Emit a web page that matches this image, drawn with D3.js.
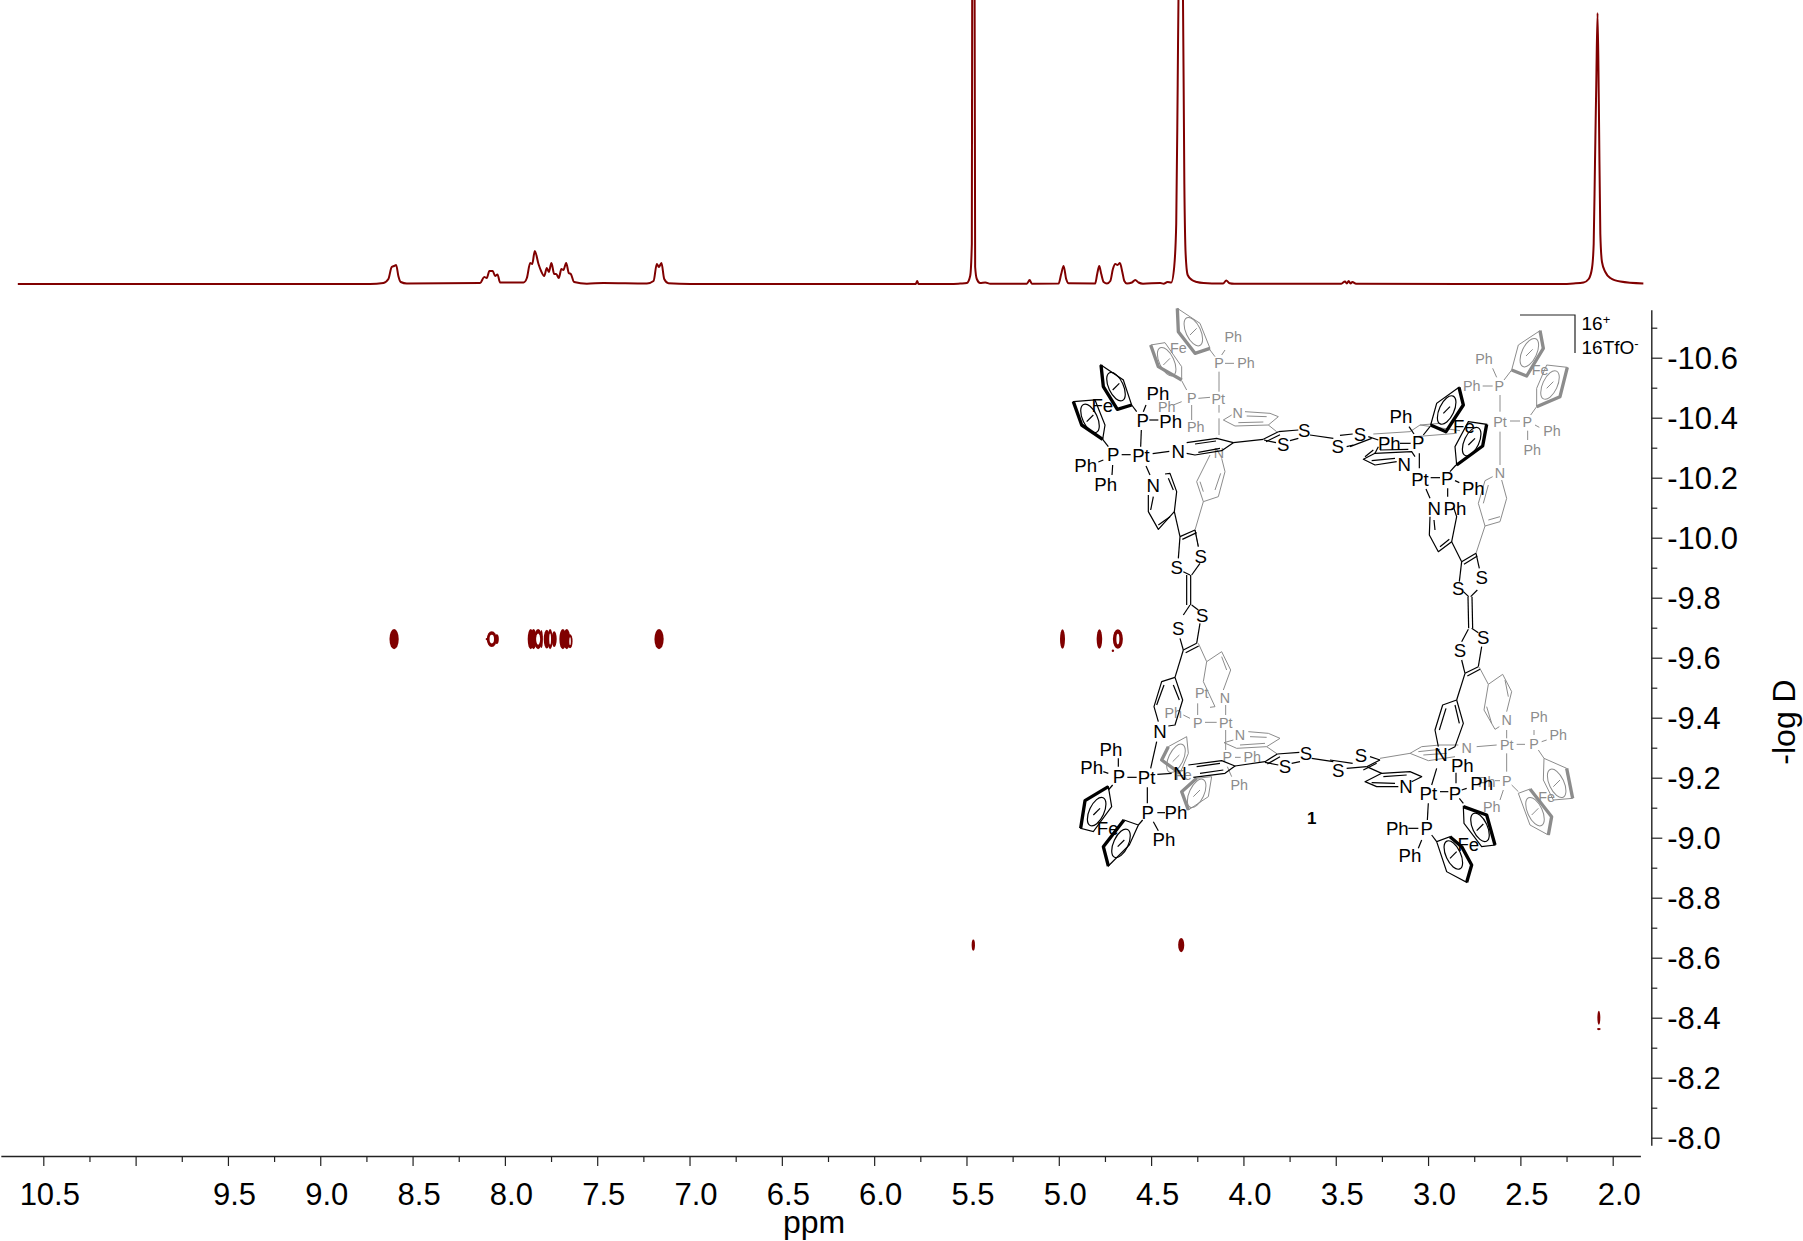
<!DOCTYPE html>
<html><head><meta charset="utf-8">
<script src="https://cdn.jsdelivr.net/npm/d3@7"></script>
<style>html,body{margin:0;padding:0;background:#fff}svg{display:block}text{font-family:"Liberation Sans",Arial,sans-serif}</style>
</head><body><svg id="c" width="1803" height="1241"></svg>
<script>
// 1H projection: chemical shift (ppm) and intensity (arbitrary units)
const specPpm = [10.638,8.73,8.658,8.631,8.613,8.6,8.589,8.577,8.564,8.531,8.134,8.112,8.098,8.084,8.066,8.053,8.04,8.026,7.899,7.881,7.863,7.852,7.838,7.818,7.804,7.787,7.773,7.762,7.748,7.733,7.722,7.708,7.694,7.683,7.668,7.654,7.643,7.625,7.556,7.466,7.231,7.195,7.177,7.166,7.152,7.137,7.114,6.997,5.8,5.775,5.767,5.76,5.588,5.534,5.498,5.48,5.471,5.469,5.463,5.456,5.453,5.444,5.426,5.398,5.371,5.173,5.158,5.146,5.001,4.987,4.974,4.96,4.947,4.803,4.792,4.781,4.77,4.757,4.739,4.721,4.707,4.694,4.682,4.669,4.656,4.645,4.631,4.604,4.586,4.568,4.544,4.45,4.432,4.411,4.391,4.375,4.364,4.356,4.351,4.338,4.328,4.32,4.313,4.302,4.279,4.252,4.216,4.125,4.11,4.093,4.075,4.05,3.47,3.45,3.44,3.43,3.42,3.41,3.39,2.284,2.212,2.158,2.13,2.112,2.103,2.096,2.089,2.082,2.075,2.067,2.058,2.04,2.013,1.959,1.834];
const specInt = [0,0,1,5,17,18,19,8,2,0.5,1,7,6,13,13,8,9.5,1.5,1.5,6,21,20,33,20,13,8,16,12,21,10,10,6,15,14,21,11,10,2,0.3,1,0.5,3,20,17,21,5,0.8,0,0,0,3,0,0,0.5,1,8,40,300,330,300,17,5,1,1.5,0.3,0.3,4,0.3,0.5,10,18,5,0.7,0.5,10,18,10,2,0.5,3,15,20,19,21,12,3,0.5,1.5,4,1.5,0.3,1,0.3,2,1.5,17,60,200,300,350,300,100,30,9,4,2,1,0.5,0.5,3.5,0.8,0.3,0.3,2.5,0.5,3,0.5,2,0.2,0,0.5,1.5,5,16,40,120,200,271,180,50,22,12,6,2.5,0.5];

// DOSY contours: shift, -log D, extent in ppm, extent in log D, hollow fraction
const blobPpm  = [8.60,8.098,8.071,8.044,7.860,7.845,7.820,7.802,7.773,7.755,7.733,7.686,7.665,7.647,7.165,4.98,4.78,4.68,4.707,5.463,4.337,2.075,2.075];
const blobLogD = [-9.662,-9.662,-9.662,-9.662,-9.662,-9.662,-9.662,-9.662,-9.662,-9.662,-9.662,-9.662,-9.662,-9.655,-9.662,-9.662,-9.662,-9.662,-9.623,-8.642,-8.642,-8.40,-8.362];
const blobDx   = [0.05,0.012,0.054,0.022,0.033,0.033,0.043,0.016,0.033,0.027,0.027,0.038,0.038,0.027,0.05,0.027,0.03,0.054,0.013,0.018,0.033,0.016,0.02];
const blobDy   = [0.067,0.008,0.053,0.033,0.067,0.067,0.067,0.06,0.063,0.067,0.053,0.067,0.067,0.047,0.067,0.065,0.065,0.065,0.008,0.037,0.047,0.047,0.007];
const blobHole = [0,0,0.45,0,0,0,0.5,0,0,0.35,0,0,0,0.3,0,0,0,0.3,0,0,0,0,0];

const xMajor = [10.5,10,9.5,9,8.5,8,7.5,7,6.5,6,5.5,5,4.5,4,3.5,3,2.5,2];
const xMinor = [10.25,9.75,9.25,8.75,8.25,7.75,7.25,6.75,6.25,5.75,5.25,4.75,4.25,3.75,3.25,2.75,2.25];
const xLabelSkip = [10];
const yMajor = [-8,-8.2,-8.4,-8.6,-8.8,-9,-9.2,-9.4,-9.6,-9.8,-10,-10.2,-10.4,-10.6];
const yMinor = [-8.1,-8.3,-8.5,-8.7,-8.9,-9.1,-9.3,-9.5,-9.7,-9.9,-10.1,-10.3,-10.5,-10.7];

const RED = "#800000";
const svg = d3.select("#c");
const x = d3.scaleLinear().domain([10.5,2]).range([43.3,1612.7]);
const yInt = d3.scaleLinear().domain([0,284]).range([284,0]);
const y = d3.scaleLinear().domain([-8,-10.6]).range([1137.7,357.7]);

// spectrum
const line = d3.line().x(d=>x(d[0])).y(d=>yInt(d[1])).curve(d3.curveMonotoneX);
svg.append("path").attr("d",line(specPpm.map((p,i)=>[p,specInt[i]])))
  .attr("fill","none").attr("stroke",RED).attr("stroke-width",2);

// contours
const blobs = svg.append("g");
blobPpm.forEach((p,i)=>{
  const rx = Math.abs(x(p+blobDx[i]/2)-x(p-blobDx[i]/2))/2;
  const ry = Math.abs(y(blobLogD[i]+blobDy[i]/2)-y(blobLogD[i]-blobDy[i]/2))/2;
  blobs.append("ellipse").attr("cx",x(p)).attr("cy",y(blobLogD[i])).attr("rx",rx).attr("ry",ry).attr("fill",RED);
});
blobPpm.forEach((p,i)=>{
  if(blobHole[i]<=0) return;
  const rx = Math.abs(x(p+blobDx[i]/2)-x(p-blobDx[i]/2))/2;
  const ry = Math.abs(y(blobLogD[i]+blobDy[i]/2)-y(blobLogD[i]-blobDy[i]/2))/2;
  blobs.append("ellipse").attr("cx",x(p)).attr("cy",y(blobLogD[i])).attr("rx",rx*blobHole[i]).attr("ry",ry*0.55).attr("fill","#fff");
});

// x axis
const xScaleAxis = x.copy().domain([10.73,1.85]).range([x(10.73),x(1.85)]);
const axX = svg.append("g").attr("transform","translate(0,1156)");
axX.call(d3.axisBottom(xScaleAxis).tickValues(xMajor).tickSize(10).tickSizeOuter(0).tickFormat(d=>xLabelSkip.includes(d)?"":d3.format(".1f")(d)));
axX.selectAll("text").attr("font-size",31).attr("font-family","Liberation Sans").attr("fill","#000").attr("dx",6).attr("y",18).attr("dy","1em");
axX.select(".domain").attr("stroke","#222").attr("stroke-width",1.4);
axX.selectAll(".tick line").attr("stroke","#222").attr("stroke-width",1.2);
const axX2 = svg.append("g").attr("transform","translate(0,1156)");
axX2.call(d3.axisBottom(xScaleAxis).tickValues(xMinor).tickSize(6).tickSizeOuter(0).tickFormat(""));
axX2.select(".domain").remove();
axX2.selectAll(".tick line").attr("stroke","#222").attr("stroke-width",1.2);

// y axis
const yAxisScale = y.copy().domain([-7.975,-10.76]).range([y(-7.975),y(-10.76)]);
const axY = svg.append("g").attr("transform","translate(1651.3,0)");
axY.call(d3.axisRight(yAxisScale).tickValues(yMajor).tickSize(11).tickSizeOuter(0).tickFormat(d=>d3.format(".1f")(d).replace("\u2212","-")));
axY.selectAll("text").attr("font-size",31).attr("font-family","Liberation Sans").attr("fill","#000").attr("x",16).attr("dy","0.36em");
axY.select(".domain").attr("stroke","#222").attr("stroke-width",1.4);
axY.selectAll(".tick line").attr("stroke","#222").attr("stroke-width",1.2);
const axY2 = svg.append("g").attr("transform","translate(1651.3,0)");
axY2.call(d3.axisRight(yAxisScale).tickValues(yMinor).tickSize(6).tickSizeOuter(0).tickFormat(""));
axY2.select(".domain").remove();
axY2.selectAll(".tick line").attr("stroke","#222").attr("stroke-width",1.2);

svg.append("text").attr("x",814).attr("y",1233).attr("text-anchor","middle").attr("font-size",32).text("ppm");
svg.append("text").attr("transform","translate(1795,722) rotate(-90)").attr("text-anchor","middle").attr("font-size",32).text("-log D");

// structure drawing of compound 1
const fragments = [
 // gray, top-left
 {o:[1040,290],g:1,lines:[[537,245,537,305],[555,220,582,220],[475,325,510,322],[455,345,455,390],[537,345,537,368],[537,385,537,435],[555,180,545,195],[510,180,525,200],[425,272,440,300],[400,345,425,335],
   [615,365,690,370,715,380,685,405,585,408,550,390,575,375],[620,378,680,380],[595,398,670,396],[685,405,710,425],
   [510,495,470,575,490,635,535,620,555,545,545,505],[490,605,480,575],[525,600,542,550],[490,635,465,720],[465,720,475,770]],
  labels:[["Fe",415,175],["Ph",580,140],["P",537,220],["Ph",618,220],["P",455,325],["Pt",535,327],["Ph",380,352],["Ph",467,412],["N",593,368],["N",537,490]],
  rings:[{p:[412,55,480,100,510,175,465,190,415,125],b:[412,55,415,125,465,190,510,175],e:[460,125],a:-25},{p:[332,165,375,158,425,230,425,270,355,230],b:[332,165,355,230,425,270],e:[380,215],a:-25}]},
 // gray, top-right
 {o:[1340,290],g:1,lines:[[458,235,470,262],[428,288,458,288],[480,315,480,365],[510,393,540,393],[480,425,480,525],[585,405,598,412],[563,422,563,450],[515,240,492,270],[590,350,572,375],
   [458,560,435,572,415,640,435,708,480,695,500,625,485,570],[430,640,445,585],[445,690,480,680],[435,708,408,790],
   [100,432,210,425,240,405,300,400],[240,405,360,422],[225,440,350,430]],
  labels:[["Ph",432,208],["Ph",395,288],["P",478,288],["Fe",600,240],["Pt",480,395],["P",562,395],["Ph",636,423],["Ph",577,481],["N",480,550]],
  rings:[{p:[600,122,610,175,560,258,515,240,535,165],b:[600,122,610,175,560,258,515,240],e:[568,188],a:25},{p:[620,225,682,232,660,320,590,350,590,295],b:[682,232,660,320,590,350],e:[630,285],a:25}]},
 // gray, bottom-left
 {o:[1040,590],g:1,lines:[[475,160,500,215],[500,215,545,185,572,240,550,300],[500,215,490,275,525,350,510,352],[545,200,560,240],[473,340,473,375],[430,375,450,385],[495,397,530,397],[557,345,557,375],[557,420,557,480],[585,502,602,502],[562,530,575,560],
   [625,425,685,430,720,445,680,470,590,475,552,458,580,450],[630,440,680,442],[600,465,675,460],[680,470,712,492]],
  labels:[["Pt",485,310],["Ph",400,368],["P",473,398],["Pt",557,398],["N",555,325],["N",600,435],["P",562,502],["Ph",637,502],["Ph",598,585],["Fe",430,555]],
  rings:[{p:[385,470,440,440,445,490,420,550,365,510],b:[385,470,365,510,420,550],e:[408,505],a:25},{p:[470,565,515,560,505,620,445,660,425,605],b:[470,565,425,605,445,660],e:[470,610],a:25}]},
 // gray, bottom-right
 {o:[1340,590],g:1,lines:[[418,232,445,283],[445,283,488,253,515,305,500,365],[445,283,432,360,465,418,478,410],[495,270,505,320],[440,350,455,400],[500,420,500,445],[530,463,555,463],[582,420,582,435],[605,455,620,450],[500,490,500,545],[465,572,480,572],[410,470,470,465],[595,480,612,505],[515,585,535,605],[490,600,480,630],
   [355,465,300,465,245,470,210,490,265,512,345,500],[235,485,300,478],[250,495,320,490],[210,490,120,505]],
  labels:[["N",500,390],["N",380,475],["Pt",500,465],["P",582,462],["Ph",597,380],["Ph",655,435],["P",500,572],["Ph",440,575],["Ph",455,652],["Fe",620,620]],
  rings:[{p:[612,505,680,535,698,625,640,630,610,570],b:[680,535,698,625],e:[650,580],a:-25},{p:[570,597,635,680,625,735,570,705,535,610],b:[570,597,635,680,625,735],e:[585,665],a:-25}]},
 // black, top-left
 {o:[1040,290],lines:[[318,345,310,365],[328,390,355,390],[304,420,302,470],[245,494,272,494],[338,491,388,484],[318,528,330,555],[190,510,175,516],[218,525,216,555],[275,345,290,365],[188,448,205,470],
   [440,458,530,445,580,458,545,482,465,495,440,490],[465,462,528,453],[475,487,540,475],[580,458,670,448],[670,448,715,425],[678,455,720,434],[715,425,775,420],[672,450,708,458],[750,452,775,445],[810,435,880,445],
   [375,552,390,550,410,605,403,665,355,718,325,665,325,615],[385,565,400,600],[340,620,332,660],[355,705,390,680],[403,665,420,740],[420,740,465,720],[427,748,470,728],[420,740,415,805],[465,720,475,770],[430,845,450,855],[480,820,455,855],[440,855,440,900],[452,855,452,900]],
  labels:[["Fe",187,347],["Ph",354,310],["P",308,390],["Ph",392,393],["P",220,492],["Pt",303,497],["N",415,484],["Ph",137,527],["Ph",197,582],["N",340,585],["S",730,463],["S",793,422],["S",893,470],["S",410,832],["S",482,798]],
  rings:[{p:[183,225,250,270,275,345,232,358,190,290],b:[183,225,190,290,232,358,275,345],e:[228,290],a:-25},{p:[100,335,165,330,195,405,188,448,125,405],b:[100,335,125,405,188,448],e:[150,385],a:-25}]},
 // black, top-right
 {o:[1340,290],lines:[[207,410,222,432],[180,460,212,460],[238,490,238,535],[272,563,300,563],[345,572,358,578],[323,595,323,620],[258,597,270,625],[270,410,250,435],[348,525,330,545],
   [0,436,38,432],[20,470,40,465],[85,440,115,450],[170,515,105,525,70,508,105,490,215,485,225,500],[105,490,115,470],[95,445,30,470],[75,500,100,480],[95,512,165,505],[120,480,205,478],
   [270,680,268,735,295,785,335,755,350,680,340,650],[285,720,282,690],[300,770,328,748],[335,755,365,815],[365,815,408,790],[372,823,412,798],[365,815,358,875],[408,790,418,835]],
  labels:[["Ph",183,378],["S",60,432],["Ph",148,460],["P",235,458],["Fe",372,410],["N",193,522],["Pt",240,567],["P",322,565],["Ph",400,595],["N",283,655],["Ph",345,655],["S",355,895],["S",425,862]],
  rings:[{p:[357,292,370,345,318,425,272,405,290,340],b:[357,292,370,345,318,425,272,405],e:[320,360],a:25},{p:[385,395,440,403,428,468,350,525,345,470],b:[440,403,428,468,350,525],e:[395,455],a:25}]},
 // black, bottom-left
 {o:[1040,590],lines:[[440,0,440,45],[452,0,452,45],[450,45,430,75],[455,45,475,60],[420,145,430,180],[480,100,470,160],[430,180,470,160],[437,188,476,168],[430,180,405,262],
   [405,262,365,275,342,350,355,395],[405,262,428,330,405,405,385,408],[372,285,350,345],[400,285,418,330],[350,455,332,535],[235,505,235,530],[190,545,205,550],[262,562,290,562],[352,553,395,550],[322,592,322,640],[352,668,375,668],[340,695,355,722],[205,600,218,585],[295,705,308,690],
   [445,525,545,512,585,528,555,550,460,562],[470,530,540,520],[480,550,550,540],[585,528,675,515],[675,515,712,492],[682,522,720,500],[712,492,778,487],[675,517,715,525],[755,520,780,515],[815,505,880,515]],
  labels:[["S",487,75],["S",415,115],["N",360,425],["Ph",213,477],["Ph",155,533],["P",237,560],["Pt",320,563],["N",420,550],["P",323,668],["Ph",408,668],["Ph",372,748],["Fe",203,715],["S",798,490],["S",735,528],["S",895,540]],
  rings:[{p:[135,632,205,590,215,650,160,725,122,715],b:[205,590,135,632,122,715],e:[170,665],a:25},{p:[252,690,295,705,268,765,205,828,190,770],b:[252,690,190,770,205,828],e:[243,760],a:25}]},
 // black, bottom-right
 {o:[1340,590],lines:[[384,20,386,115],[396,20,398,115],[370,5,386,20],[412,0,392,20],[385,118,365,155],[395,115,415,128],[365,210,375,250],[425,170,415,230],[375,250,415,230],[382,258,420,238],[375,250,350,330],
   [350,330,308,345,285,420,295,470],[350,330,370,400,345,470,325,480],[318,355,298,420],[345,345,358,400],[290,535,275,585],[300,605,325,605],[348,548,348,580],[265,640,262,690],[205,715,235,715],[245,750,235,775],[365,600,380,595],[370,640,358,625],[290,755,275,735],
   [175,590,110,590,75,575,125,550,210,545,245,560,215,575],[95,578,165,580],[130,560,200,555],[125,550,80,530],[90,500,120,510],[80,530,120,510],[70,540,110,520],[20,535,80,530],[-30,510,38,520]],
  labels:[["S",430,143],["S",360,180],["N",303,492],["Ph",367,525],["P",345,610],["Pt",265,610],["Ph",425,580],["N",198,590],["S",63,497],["Ph",172,715],["P",260,715],["Ph",210,797],["Fe",385,763]],
  rings:[{p:[370,650,440,675,465,765,425,770,372,700],b:[370,650,440,675,465,765],e:[420,712],a:-25},{p:[330,740,365,770,395,825,380,877,320,845,290,755],b:[330,740,365,770,395,825,380,877],e:[340,795],a:-25}]}
];
const mol = svg.append("g");
function pairs(a){const r=[];for(let i=0;i<a.length;i+=2)r.push([a[i],a[i+1]]);return r;}
fragments.forEach(f=>{
  const col=f.g?"#8c8c8c":"#000", g=mol.append("g").attr("transform",`translate(${f.o[0]},${f.o[1]}) scale(${1/3})`);
  const sw=f.g?3:3.6, L=d3.line();
  f.lines.forEach(l=>g.append("path").attr("d",L(pairs(l))).attr("fill","none").attr("stroke",col).attr("stroke-width",sw).attr("stroke-linejoin","round"));
  f.rings.forEach(r=>{
    g.append("path").attr("d",L(pairs(r.p))+"Z").attr("fill","none").attr("stroke",col).attr("stroke-width",sw);
    g.append("path").attr("d",L(pairs(r.b))).attr("fill","none").attr("stroke",col).attr("stroke-width",10).attr("stroke-linejoin","round");
    g.append("ellipse").attr("rx",22).attr("ry",46).attr("transform",`translate(${r.e[0]},${r.e[1]}) rotate(${r.a})`).attr("fill","none").attr("stroke",col).attr("stroke-width",sw);
    g.append("path").attr("d",L([[r.e[0]-10,r.e[1]+10],[r.e[0]+10,r.e[1]-10]])).attr("stroke",col).attr("stroke-width",sw);
  });
  f.labels.forEach(t=>g.append("text").attr("x",t[1]).attr("y",t[2]).attr("dy","0.36em").attr("text-anchor","middle").attr("font-size",f.g?43:56).attr("fill",col).text(t[0]));
});
mol.append("path").attr("d","M1520,315H1575V353").attr("fill","none").attr("stroke","#222").attr("stroke-width",1.2);
const t1=mol.append("text").attr("x",1581.5).attr("y",330).attr("font-size",19);
t1.append("tspan").text("16");t1.append("tspan").attr("dy",-6).attr("font-size",13).text("+");
const t2=mol.append("text").attr("x",1581.5).attr("y",353.5).attr("font-size",19);
t2.append("tspan").text("16TfO");t2.append("tspan").attr("dy",-6).attr("font-size",13).text("-");
mol.append("text").attr("x",1311.7).attr("y",824).attr("text-anchor","middle").attr("font-size",17).attr("font-weight","bold").text("1");
</script></body></html>
